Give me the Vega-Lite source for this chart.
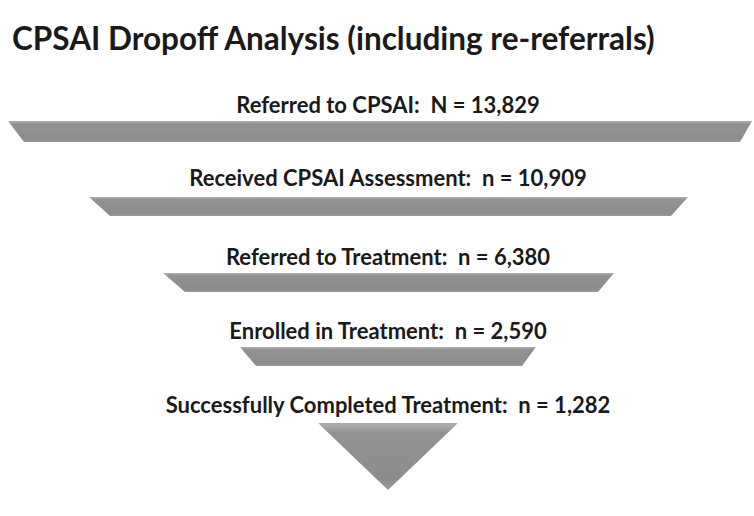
{
  "$schema": "https://vega.github.io/schema/vega-lite/v6.json",
  "width": 754,
  "height": 436,
  "autosize": {"type": "none"},
  "padding": {"top": 80, "left": 0, "right": 0, "bottom": 0},
  "background": "white",
  "title": {
    "text": "CPSAI Dropoff Analysis (including re-referrals)",
    "anchor": "start",
    "frame": "group",
    "baseline": "alphabetic",
    "offset": -1.5,
    "dx": 12,
    "font": "Lato",
    "fontSize": 31.5,
    "fontWeight": "bold",
    "color": "#1a1a1a"
  },
  "config": {"view": {"stroke": null}},
  "datasets": {
    "shapes": [
      {"stage": 1, "y": 121, "xl": 8, "xr": 752},
      {"stage": 1, "y": 142, "xl": 24, "xr": 740},
      {"stage": 2, "y": 197, "xl": 89, "xr": 688},
      {"stage": 2, "y": 216, "xl": 110, "xr": 671},
      {"stage": 3, "y": 273, "xl": 163, "xr": 614},
      {"stage": 3, "y": 292, "xl": 185, "xr": 598},
      {"stage": 4, "y": 347, "xl": 240, "xr": 536},
      {"stage": 4, "y": 366, "xl": 256, "xr": 522},
      {"stage": 5, "y": 423, "xl": 318, "xr": 458},
      {"stage": 5, "y": 490, "xl": 388, "xr": 388}
    ],
    "labels": [
      {"stage": 1, "label": "Referred to CPSAI:\u00a0 N = 13,829", "y": 113},
      {"stage": 2, "label": "Received CPSAI Assessment:\u00a0 n = 10,909", "y": 186},
      {"stage": 3, "label": "Referred to Treatment:\u00a0 n = 6,380", "y": 265},
      {"stage": 4, "label": "Enrolled in Treatment:\u00a0 n = 2,590", "y": 339},
      {"stage": 5, "label": "Successfully Completed Treatment:\u00a0 n = 1,282", "y": 413}
    ]
  },
  "layer": [
    {
      "data": {"name": "shapes"},
      "mark": {
        "type": "area",
        "orient": "horizontal",
        "color": {
          "gradient": "linear",
          "x1": 0, "y1": 0, "x2": 0, "y2": 1,
          "stops": [
            {"offset": 0, "color": "#b0b0b0"},
            {"offset": 0.15, "color": "#929292"},
            {"offset": 0.85, "color": "#8c8c8c"},
            {"offset": 1, "color": "#9a9a9a"}
          ]
        }
      },
      "encoding": {
        "y": {"field": "y", "type": "quantitative", "scale": {"domain": [80, 516], "reverse": true, "nice": false, "zero": false}, "axis": null},
        "x": {"field": "xl", "type": "quantitative", "scale": {"domain": [0, 754], "nice": false, "zero": false}, "axis": null},
        "x2": {"field": "xr"},
        "detail": {"field": "stage", "type": "nominal"}
      }
    },
    {
      "data": {"name": "labels"},
      "mark": {
        "type": "text",
        "font": "Lato",
        "fontSize": 22,
        "fontWeight": "bold",
        "color": "#1a1a1a",
        "align": "center",
        "baseline": "alphabetic"
      },
      "encoding": {
        "y": {"field": "y", "type": "quantitative"},
        "x": {"datum": 388, "type": "quantitative"},
        "text": {"field": "label"}
      }
    }
  ]
}
